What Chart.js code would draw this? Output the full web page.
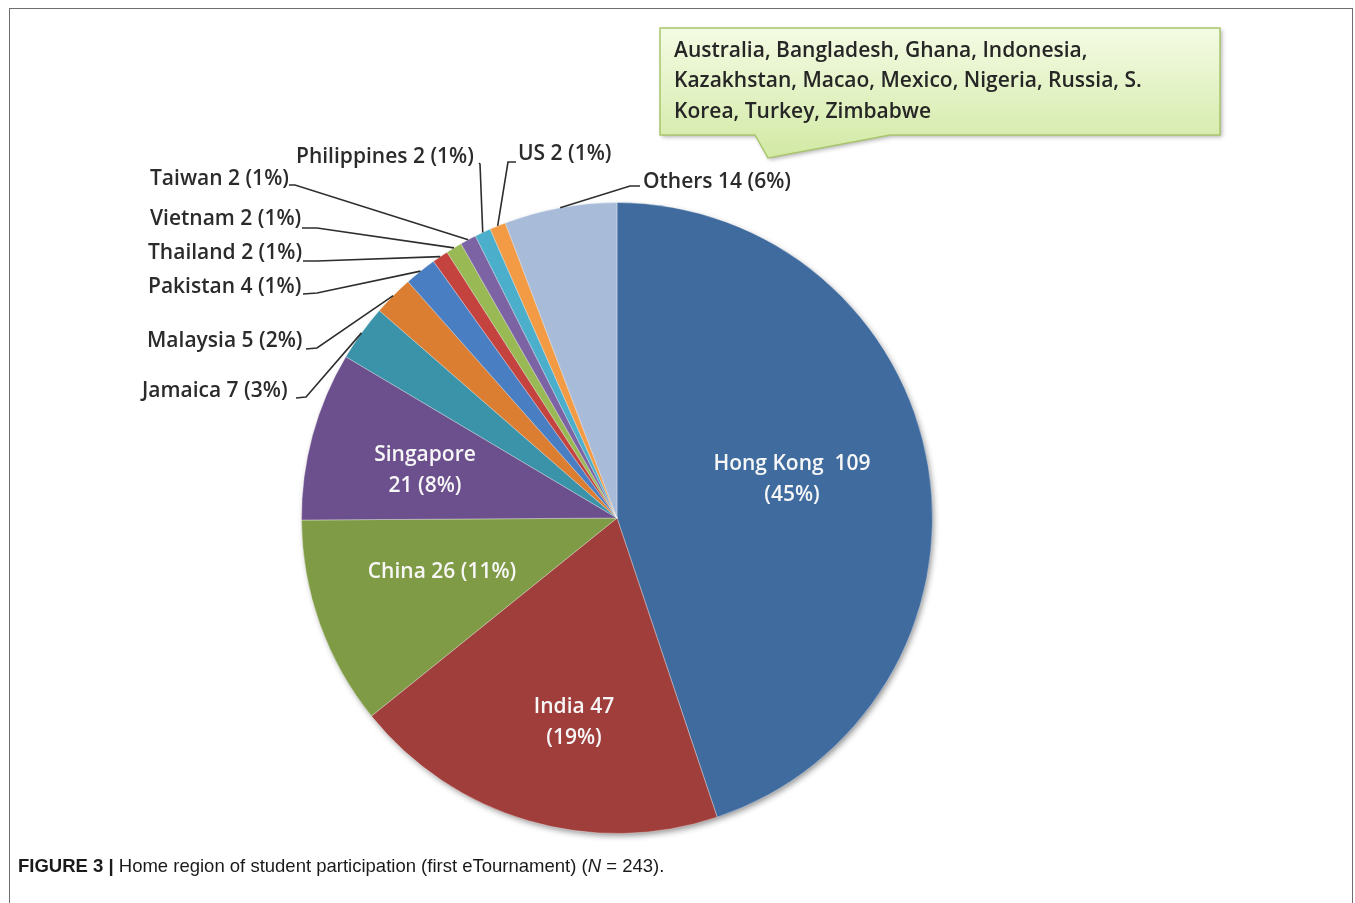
<!DOCTYPE html>
<html>
<head>
<meta charset="utf-8">
<title>Home region of student participation</title>
<script src="https://cdn.jsdelivr.net/npm/chart.js@4.4.0/dist/chart.umd.min.js"></script>
<style>
  html, body { margin: 0; padding: 0; background: #fff; }
  body { width: 1355px; height: 903px; position: relative; overflow: hidden; }
  #frame {
    position: absolute; left: 9px; top: 8px; width: 1344px; height: 1000px;
    border: 1.5px solid #6e6e6e; box-sizing: border-box;
  }
  #regionChart { position: absolute; left: 0; top: 0; }
  #caption {
    position: absolute; left: 18px; top: 855px;
    font-family: "Liberation Sans Narrow", "Arial Narrow", "Liberation Sans", sans-serif;
    font-size: 18.5px; color: #1a1a1a; white-space: nowrap;
  }
  #caption b { font-weight: bold; }
</style>
</head>
<body>
<div id="frame"></div>
<canvas id="regionChart" width="1355" height="903"></canvas>
<div id="caption"><b>FIGURE 3 |</b> Home region of student participation (first eTournament) (<i>N</i> = 243).</div>

<script>
const regions = ["Hong Kong", "India", "China", "Singapore", "Jamaica", "Malaysia", "Pakistan",
                 "Thailand", "Vietnam", "Taiwan", "Philippines", "US", "Others"];
const participants = [109, 47, 26, 21, 7, 5, 4, 2, 2, 2, 2, 2, 14];
const sharePct = [45, 19, 11, 8, 3, 2, 1, 1, 1, 1, 1, 1, 6];
const otherRegionLines = [
  "Australia, Bangladesh, Ghana, Indonesia,",
  "Kazakhstan, Macao, Mexico, Nigeria, Russia, S.",
  "Korea, Turkey, Zimbabwe"
];

const sliceColors = ["#3f6b9f", "#9f3e3a", "#7f9b45", "#6c4f8d", "#3b93aa", "#dc7e32", "#4a7ec2",
                     "#c4433f", "#98b954", "#7c63a3", "#4bafcb", "#f39a44", "#a8bcda"];

const LABEL_FONT = "600 21px 'Open Sans', 'Noto Sans', sans-serif";

// labels sitting inside the big slices
const insideLabels = {
  "Hong Kong": { x: 792, y: 464, lines: (n, v, p) => [n + "  " + v, "(" + p + "%)"] },
  "India":     { x: 574, y: 707, lines: (n, v, p) => [n + " " + v, "(" + p + "%)"] },
  "China":     { x: 442, y: 572, lines: (n, v, p) => [n + " " + v + " (" + p + "%)"] },
  "Singapore": { x: 425, y: 455, lines: (n, v, p) => [n, v + " (" + p + "%)"] }
};

// labels outside the pie: text anchor + leader line elbow
const outsideLabels = {
  "Jamaica":     { x: 142, y: 391, from: [296, 398], elbow: [306, 397] },
  "Malaysia":    { x: 147, y: 341, from: [306, 349], elbow: [317, 348] },
  "Pakistan":    { x: 148, y: 287, from: [303, 294], elbow: [317, 293] },
  "Thailand":    { x: 148, y: 253, from: [303, 261], elbow: [317, 261] },
  "Vietnam":     { x: 150, y: 219, from: [302, 228], elbow: [317, 228] },
  "Taiwan":      { x: 150, y: 179, from: [289, 185], elbow: [295, 185] },
  "Philippines": { x: 296, y: 157, from: [479, 163], elbow: [480, 164] },
  "US":          { x: 518, y: 154, from: [516, 162], elbow: [508, 162] },
  "Others":      { x: 643, y: 182, from: [640, 186], elbow: [630, 186] }
};

const pieShadow = {
  id: "pieShadow",
  beforeDatasetsDraw(chart) {
    const arc = chart.getDatasetMeta(0).data[0];
    const ctx = chart.ctx;
    ctx.save();
    ctx.shadowColor = "rgba(0,0,0,0.45)";
    ctx.shadowBlur = 6;
    ctx.shadowOffsetX = 2;
    ctx.shadowOffsetY = 3;
    ctx.fillStyle = "#888";
    ctx.beginPath();
    ctx.arc(arc.x, arc.y, arc.outerRadius - 1, 0, Math.PI * 2);
    ctx.fill();
    ctx.restore();
  }
};

function drawCallout(ctx) {
  ctx.save();
  ctx.beginPath();
  ctx.moveTo(660, 28);
  ctx.lineTo(1220, 28);
  ctx.lineTo(1220, 135);
  ctx.lineTo(890, 135);
  ctx.lineTo(768, 158);
  ctx.lineTo(755, 135);
  ctx.lineTo(660, 135);
  ctx.closePath();
  const g = ctx.createLinearGradient(0, 28, 0, 158);
  g.addColorStop(0, "#f4fbe4");
  g.addColorStop(1, "#d2e9a4");
  ctx.shadowColor = "rgba(0,0,0,0.3)";
  ctx.shadowBlur = 4;
  ctx.shadowOffsetX = 2;
  ctx.shadowOffsetY = 2;
  ctx.fillStyle = g;
  ctx.fill();
  ctx.shadowColor = "transparent";
  ctx.strokeStyle = "#a9c56c";
  ctx.lineWidth = 1.5;
  ctx.stroke();

  ctx.fillStyle = "#262626";
  ctx.font = LABEL_FONT;
  ctx.textAlign = "left";
  ctx.textBaseline = "middle";
  otherRegionLines.forEach((line, i) => ctx.fillText(line, 674, 51 + i * 30.5));
  ctx.restore();
}

const sliceLabels = {
  id: "sliceLabels",
  afterDraw(chart) {
    const ctx = chart.ctx;
    const arcs = chart.getDatasetMeta(0).data;
    ctx.save();
    ctx.font = LABEL_FONT;
    ctx.textBaseline = "middle";

    regions.forEach((name, i) => {
      const v = participants[i], p = sharePct[i];
      const inside = insideLabels[name];
      if (inside) {
        ctx.fillStyle = "#f7f7f7";
        ctx.textAlign = "center";
        inside.lines(name, v, p).forEach((t, k) => ctx.fillText(t, inside.x, inside.y + k * 31));
        return;
      }
      const out = outsideLabels[name];
      if (!out) return;
      // leader from the label to the rim of its slice
      const arc = arcs[i];
      const mid = (arc.startAngle + arc.endAngle) / 2;
      const ex = arc.x + Math.cos(mid) * arc.outerRadius;
      const ey = arc.y + Math.sin(mid) * arc.outerRadius;
      ctx.strokeStyle = "#2e2e2e";
      ctx.lineWidth = 1.6;
      ctx.beginPath();
      ctx.moveTo(out.from[0], out.from[1]);
      ctx.lineTo(out.elbow[0], out.elbow[1]);
      ctx.lineTo(ex, ey);
      ctx.stroke();

      ctx.fillStyle = "#2b2b2b";
      ctx.textAlign = "left";
      ctx.fillText(name + " " + v + " (" + p + "%)", out.x, out.y);
    });
    ctx.restore();

    drawCallout(ctx);
  }
};

new Chart(document.getElementById("regionChart"), {
  type: "pie",
  data: {
    labels: regions,
    datasets: [{
      data: participants,
      backgroundColor: sliceColors,
      borderColor: "rgba(255,255,255,0.35)",
      borderWidth: 1
    }]
  },
  options: {
    responsive: false,
    animation: false,
    devicePixelRatio: 1,
    layout: { padding: { left: 301, right: 422, top: 202, bottom: 69 } },
    plugins: { legend: { display: false }, tooltip: { enabled: false } }
  },
  plugins: [pieShadow, sliceLabels]
});
</script>
</body>
</html>
